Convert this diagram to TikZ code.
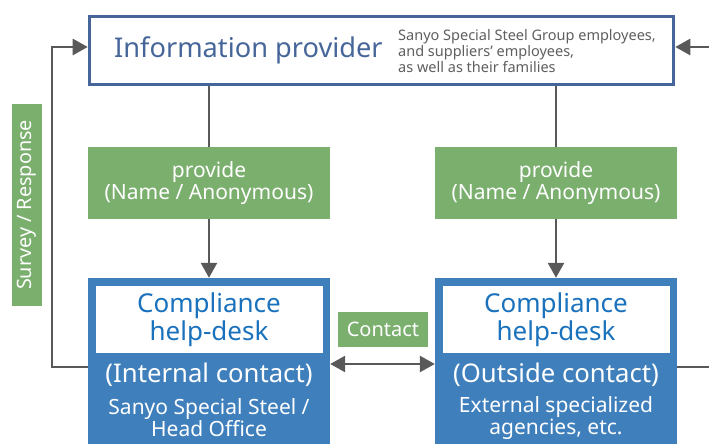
\documentclass[tikz,border=0pt]{standalone}
\usepackage{fontspec}
\setmainfont{Noto Sans}
\usetikzlibrary{arrows.meta}
\definecolor{provblue}{HTML}{46669A}
\definecolor{deskblue}{HTML}{3E7FBC}
\definecolor{textblue}{HTML}{1A72BD}
\definecolor{boxgreen}{HTML}{7AAF6E}
\definecolor{linegray}{HTML}{595959}
\definecolor{textgray}{HTML}{5F5F5F}
\newcommand{\fsz}[1]{\fontsize{#1bp}{1.2\dimexpr#1bp\relax}\selectfont}
\begin{document}
\begin{tikzpicture}[x=1bp, y=-1bp,
    label box/.style={rectangle, fill=boxgreen, text=white, align=center, inner sep=0pt},
    desk/.style={rectangle, fill=deskblue, minimum width=242bp, minimum height=166bp, inner sep=0pt},
    desk head/.style={rectangle, fill=white, minimum width=227bp, minimum height=67bp, inner sep=0pt,
        text=textblue, align=center, font=\fsz{26}},
    desk text/.style={text=white, align=center, inner sep=0pt},
    line/.style={draw=linegray, line width=2.6bp},
    arr/.style={line, -{Triangle[length=15bp, width=16bp]}}]
    \useasboundingbox (0,0) rectangle (709,444);

    % information provider
    \node[rectangle, draw=provblue, line width=3.5bp, fill=white, minimum width=584bp, minimum height=68bp] (prov) at (381.5,50.5) {};
    \node[anchor=west, text=provblue, font=\fsz{27.2}, inner sep=0pt] (provtxt) at (114,50) {Information provider};
    \node[anchor=west, text=textgray, font=\fsz{14.5}, align=left, inner sep=0pt] (whom) at (398,51)
        {Sanyo Special Steel Group employees,\\[-1bp]and suppliers’ employees,\\[-1bp]as well as their families};

    % provide labels
    \node[label box, minimum width=242bp, minimum height=72bp, font=\fsz{21}] (provL) at (209,183) {provide\\[-3bp](Name / Anonymous)};
    \node[label box, minimum width=242bp, minimum height=72bp, font=\fsz{21}] (provR) at (556,183) {provide\\[-3bp](Name / Anonymous)};
    \node[label box, rotate=90, minimum width=202bp, minimum height=30bp, font=\fsz{19.8}] (survey) at (27,205) {Survey / Response};

    % help-desks
    \node[desk] (deskL) at (209,361) {};
    \node[desk head] (headL) at (209,319.5) {Compliance\\[-3bp]help-desk};
    \node[desk text, font=\fsz{25.7}] (intL) at (209,375) {(Internal contact)};
    \node[desk text, font=\fsz{21}] (siteL) at (209,418) {Sanyo Special Steel /\\[-3bp]Head Office};

    \node[desk] (deskR) at (556,361) {};
    \node[desk head] (headR) at (556,319.5) {Compliance\\[-3bp]help-desk};
    \node[desk text, font=\fsz{25.7}] (extR) at (556,375) {(Outside contact)};
    \node[desk text, font=\fsz{21}] (siteR) at (556,418) {External specialized\\[-3bp]agencies, etc.};

    \node[label box, minimum width=90bp, minimum height=35bp, font=\fsz{20}] (contact) at (383,329.5) {Contact};

    % connectors
    \coordinate (loopL) at (52,47);
    \coordinate (loopR) at (720,47);
    \draw[line] (prov.south -| provL.north) -- (provL.north);
    \draw[line] (prov.south -| provR.north) -- (provR.north);
    \draw[arr] (provL.south) -- (deskL.north);
    \draw[arr] (provR.south) -- (deskR.north);
    \draw[arr] ([yshift=-6bp]deskL.west) -| (loopL) -- (prov.west |- loopL);
    \draw[arr] ([yshift=-6bp]deskR.east) -| (loopR) -- (prov.east |- loopR);
    \draw[line, {Triangle[length=15bp, width=16bp]}-{Triangle[length=15bp, width=16bp]}] ([yshift=-3bp]deskL.east) -- ([yshift=-3bp]deskR.west);
\end{tikzpicture}
\end{document}
